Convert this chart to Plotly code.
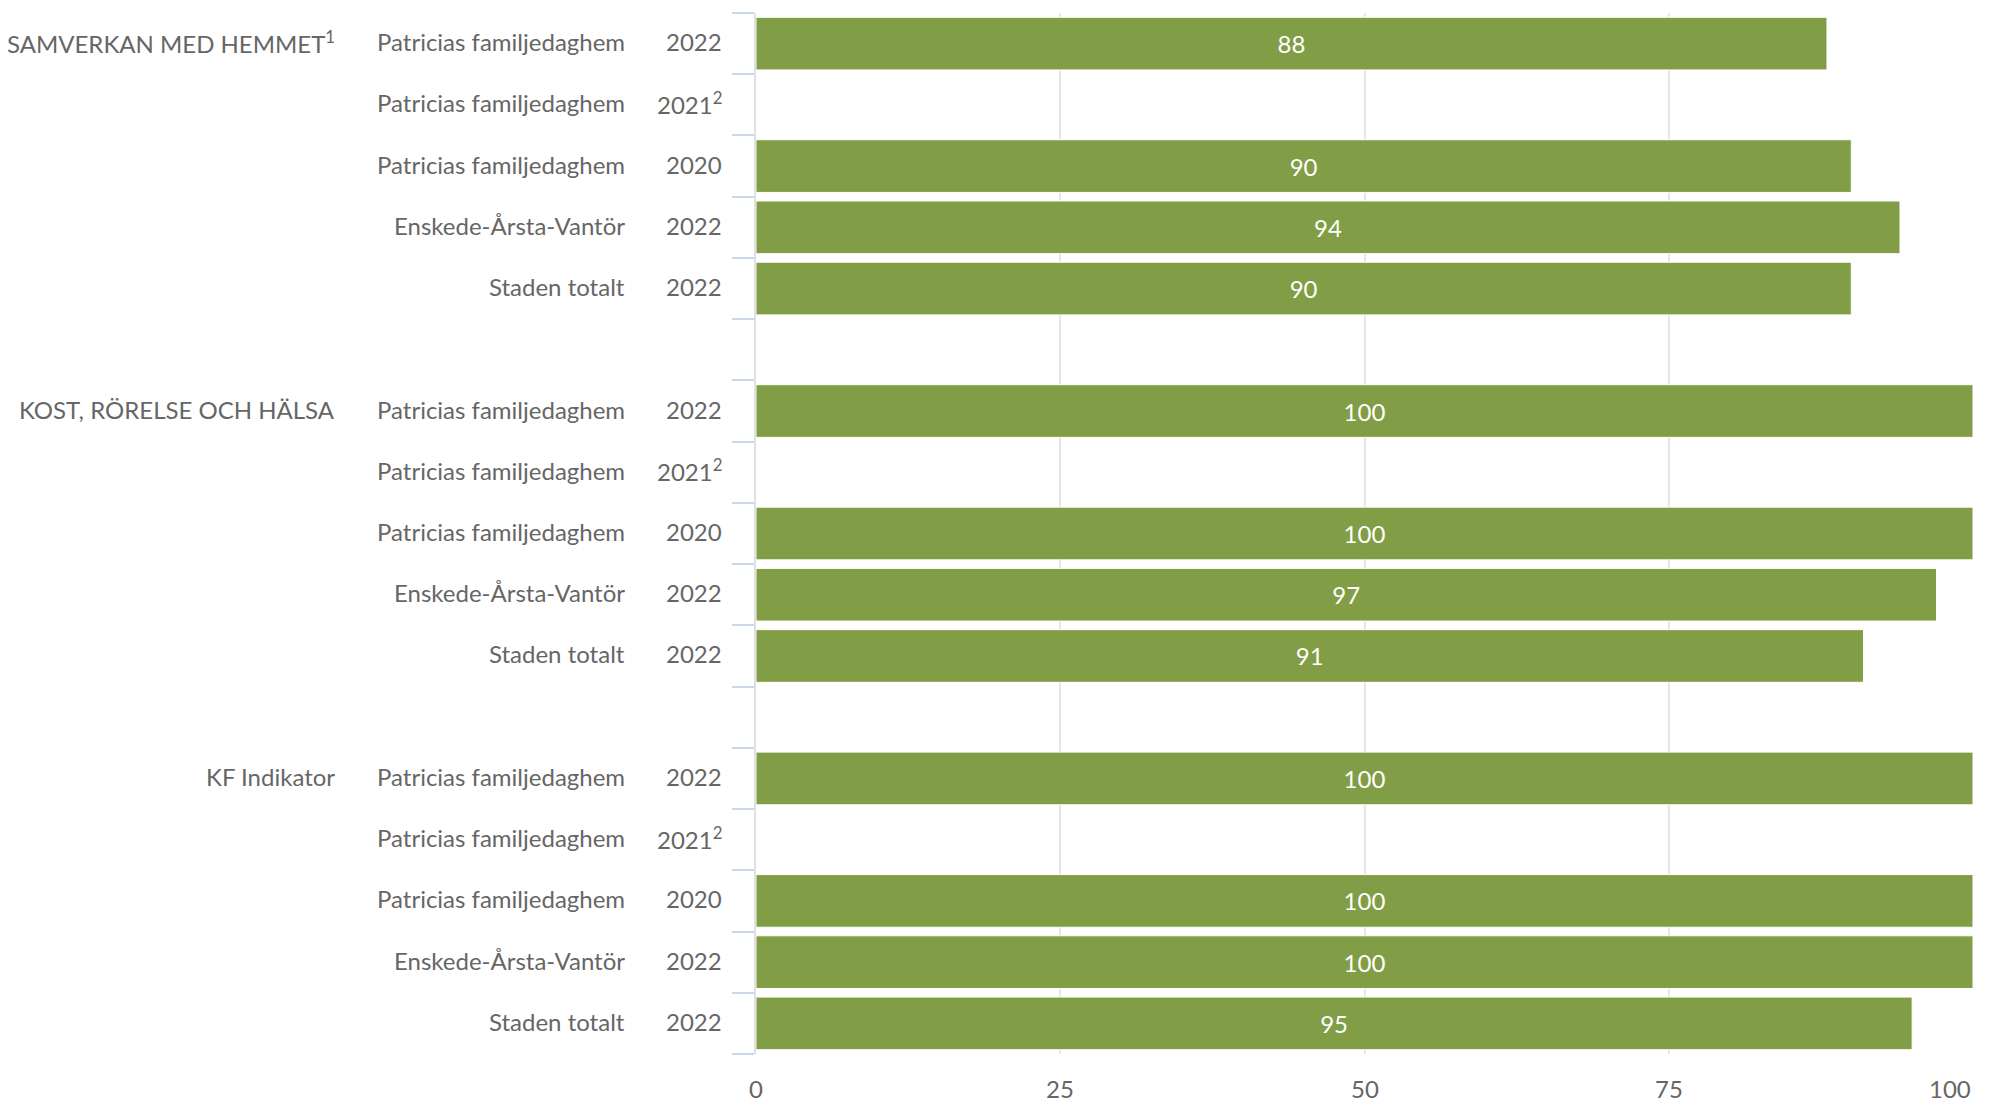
import plotly.graph_objects as go

# ---- data ----
group_labels = ["SAMVERKAN MED HEMMET<sup>1</sup>", "KOST, RÖRELSE OCH HÄLSA", "KF Indikator"]
unit_labels = ["Patricias familjedaghem", "Patricias familjedaghem", "Patricias familjedaghem",
               "Enskede-Årsta-Vantör", "Staden totalt"]
year_labels = ["2022", "2021<sup>2</sup>", "2020", "2022", "2022"]
values_samverkan = [88, None, 90, 94, 90]
values_kost = [100, None, 100, 97, 91]
values_kf = [100, None, 100, 100, 95]
x_ticks = [0, 25, 50, 75, 100]

series = [values_samverkan, values_kost, values_kf]

# ---- layout constants ----
W, H = 1992, 1099
L, R, T, B = 756, 19, 13, 45
rows_per_group = len(unit_labels) + 1  # one empty spacer row between groups
n_rows = rows_per_group * len(group_labels) - 1

GREEN = "#819d45"
TEXT = "#666666"
FONT = "Lato, 'Open Sans', sans-serif"
FS = 24

ys, xs = [], []
for g, vals in enumerate(series):
    for r, v in enumerate(vals):
        if v is None:
            continue
        ys.append(g * rows_per_group + r)
        xs.append(v)

fig = go.Figure()
fig.add_trace(go.Bar(
    x=xs, y=ys, orientation="h",
    marker=dict(color=GREEN, line=dict(color="white", width=1)),
    text=[str(v) for v in xs],
    textposition="inside", insidetextanchor="middle", textangle=0,
    textfont=dict(color="white", size=FS, family=FONT),
    constraintext="none",
    hoverinfo="x",
    showlegend=False,
))

annotations = []
for g, glabel in enumerate(group_labels):
    base = g * rows_per_group
    annotations.append(dict(
        x=0, xref="paper", y=base, yref="y", text=glabel, showarrow=False,
        xanchor="right", yanchor="middle", xshift=-(L - 337), yshift=2,
        font=dict(size=FS, color=TEXT, family=FONT)))
    for r in range(len(unit_labels)):
        annotations.append(dict(
            x=0, xref="paper", y=base + r, yref="y", text=unit_labels[r], showarrow=False,
            xanchor="right", yanchor="middle", xshift=-(L - 627), yshift=2,
            font=dict(size=FS, color=TEXT, family=FONT)))
        annotations.append(dict(
            x=0, xref="paper", y=base + r, yref="y", text=year_labels[r], showarrow=False,
            xanchor="right", yanchor="middle", xshift=-(L - 724), yshift=2,
            font=dict(size=FS, color=TEXT, family=FONT)))

# x-axis tick labels (last one kept inside the chart, as in the reference)
for i, t in enumerate(x_ticks):
    annotations.append(dict(
        x=t, xref="x", y=0, yref="paper", text=str(t), showarrow=False,
        xanchor="right" if i == len(x_ticks) - 1 else "center", yanchor="top",
        yshift=-18, font=dict(size=FS, color=TEXT, family=FONT)))

fig.update_layout(
    width=W, height=H,
    margin=dict(l=L, r=R, t=T, b=B, autoexpand=False),
    paper_bgcolor="white", plot_bgcolor="white",
    bargap=0.14,
    annotations=annotations,
    xaxis=dict(
        range=[0, 100], tickvals=x_ticks, showgrid=True, gridcolor="#e6e6e6", gridwidth=2,
        zeroline=False, showline=False, ticks="", showticklabels=False, fixedrange=True,
    ),
    yaxis=dict(
        range=[n_rows - 0.5, -0.5], tickvals=[i - 0.5 for i in range(n_rows + 1)],
        showticklabels=False, ticks="outside", ticklen=22, tickwidth=2, tickcolor="#ccd6eb",
        showgrid=False, zeroline=False, showline=True, linecolor="#e0e0e0", linewidth=2,
        fixedrange=True,
    ),
)

fig.write_html("out.html", config={"displayModeBar": False},
               post_script="document.body.style.margin='0';")
